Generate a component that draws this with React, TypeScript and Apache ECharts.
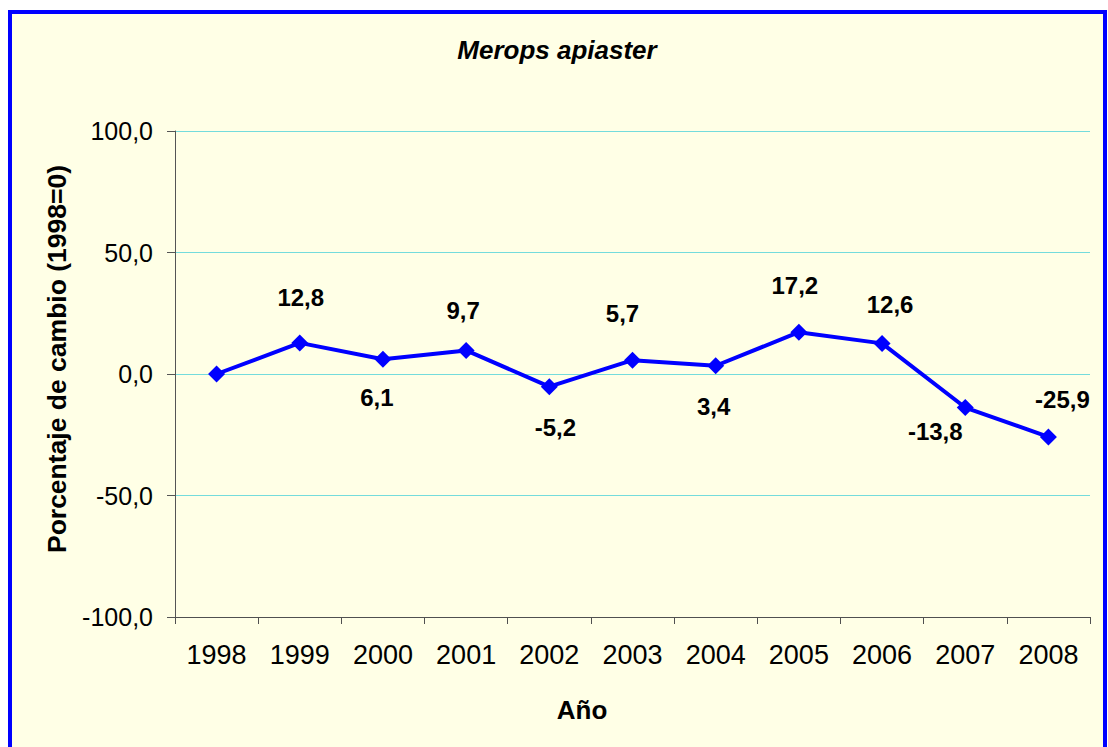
import React, { useEffect, useRef } from "react";
import * as echarts from "echarts";

const chartTitle = "Merops apiaster";
const xAxisTitle = "Año";
const yAxisTitle = "Porcentaje de cambio (1998=0)";
const years = ["1998", "1999", "2000", "2001", "2002", "2003", "2004", "2005", "2006", "2007", "2008"];
const changePct = [0, 12.8, 6.1, 9.7, -5.2, 5.7, 3.4, 17.2, 12.6, -13.8, -25.9];
const yMin = -100;
const yMax = 100;
const yStep = 50;

// label placement (style only): [dx, dy] from each point, null = no label
const labelOffsets: ([number, number] | null)[] = [
  null, [1, -45], [-6, 38], [-3, -40], [6, 41], [-10, -47], [-2, 41], [-4, -47], [8, -39], [-30, 24], [14, -37],
];

const fmt = (v: number) => v.toFixed(1).replace(".", ",");

export default function App() {
  const ref = useRef<HTMLDivElement>(null);
  useEffect(() => {
    if (!ref.current) return;
    const chart = echarts.init(ref.current, null, { renderer: "svg" });
    const font = "Arial, 'Liberation Sans', sans-serif";
    const data = changePct.map((v, i) => {
      const off = labelOffsets[i];
      return off
        ? { value: v, label: { show: true, position: "inside", offset: off } }
        : { value: v, label: { show: false } };
    });
    chart.setOption({
      animation: false,
      backgroundColor: "#ffffff",
      graphic: [
        {
          type: "rect",
          z: -10,
          shape: { x: 10, y: 12, width: 1095, height: 745 },
          style: { fill: "#FFFFE6", stroke: "#0000FF", lineWidth: 4 },
          silent: true,
        },
        {
          type: "text",
          x: 557,
          y: 50,
          style: {
            text: chartTitle,
            font: `italic bold 26px ${font}`,
            fill: "#000",
            textAlign: "center",
            textVerticalAlign: "middle",
          },
        },
        {
          type: "text",
          x: 582,
          y: 710,
          style: {
            text: xAxisTitle,
            font: `bold 26px ${font}`,
            fill: "#000",
            textAlign: "center",
            textVerticalAlign: "middle",
          },
        },
        {
          type: "text",
          x: 57,
          y: 359,
          rotation: Math.PI / 2,
          style: {
            text: yAxisTitle,
            font: `bold 26.5px ${font}`,
            fill: "#000",
            textAlign: "center",
            textVerticalAlign: "middle",
          },
        },
      ],
      grid: { left: 175, right: 18, top: 131, bottom: 130, containLabel: false },
      xAxis: {
        type: "category",
        data: years,
        boundaryGap: true,
        axisLine: { onZero: false, lineStyle: { color: "#505050", width: 1 } },
        axisTick: { show: true, length: 7, lineStyle: { color: "#505050" } },
        axisLabel: { color: "#000", fontSize: 27, fontFamily: font, margin: 24, interval: 0 },
        splitLine: { show: false },
      },
      yAxis: {
        type: "value",
        min: yMin,
        max: yMax,
        interval: yStep,
        axisLine: { show: true, lineStyle: { color: "#555555", width: 1 } },
        axisTick: { show: true, length: 8, lineStyle: { color: "#555555" } },
        axisLabel: { color: "#000", fontSize: 25, fontFamily: font, margin: 22, formatter: (v: number) => fmt(v) },
        splitLine: { show: true, lineStyle: { color: "#74DCDC", width: 1 } },
      },
      series: [
        {
          type: "line",
          data,
          symbol: "diamond",
          symbolSize: 17,
          lineStyle: { color: "#0000FF", width: 4 },
          itemStyle: { color: "#0000FF" },
          label: {
            color: "#000",
            fontSize: 24,
            fontWeight: "bold",
            fontFamily: font,
            formatter: (p: any) => fmt(p.value),
          },
        },
      ],
    });
    return () => chart.dispose();
  }, []);
  return <div ref={ref} style={{ position: "fixed", left: 0, top: 0, width: 1108, height: 747 }} />;
}
